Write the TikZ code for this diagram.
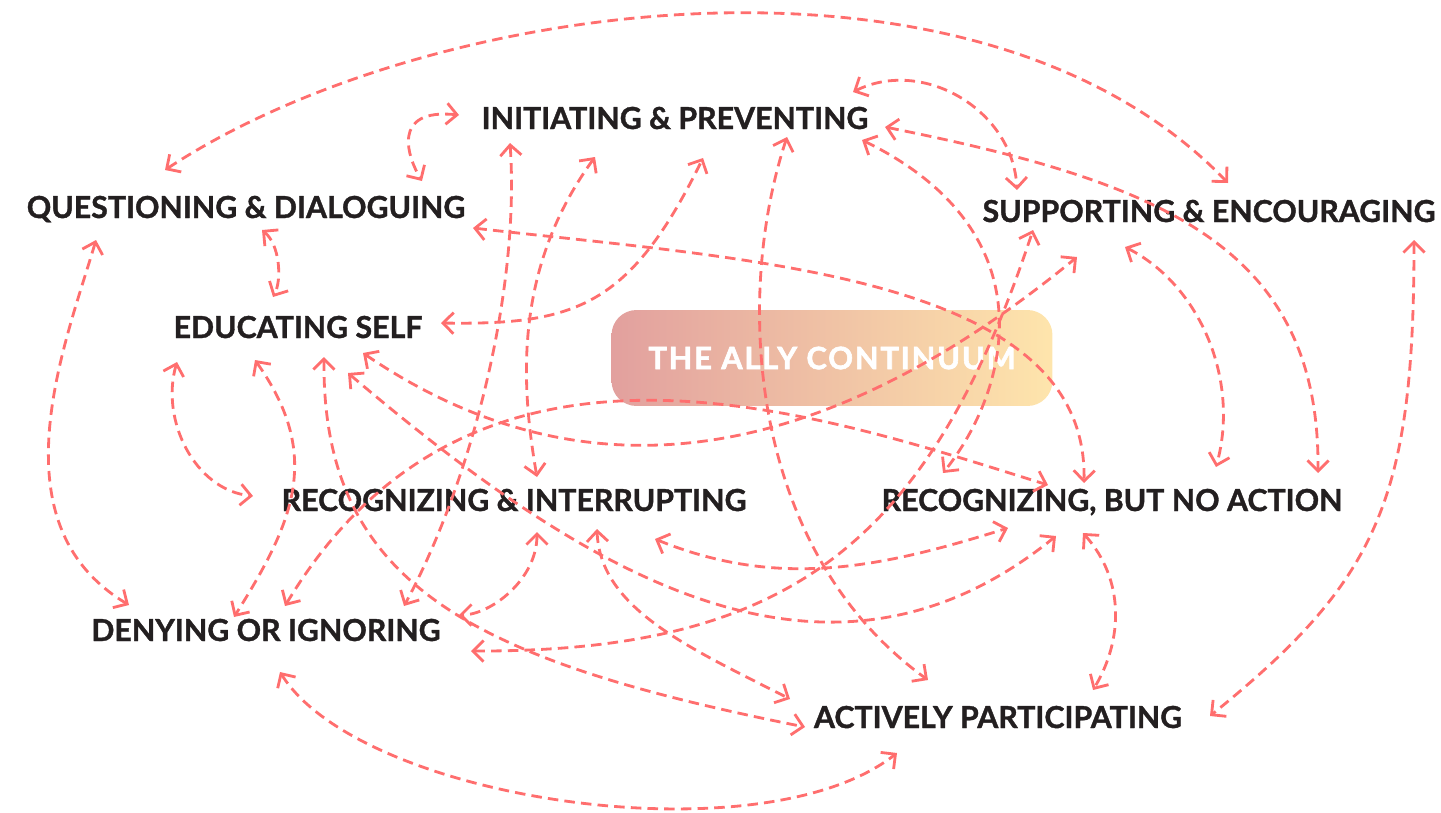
\documentclass[tikz,border=0pt]{standalone}
\usepackage{fontspec}
\setmainfont{Lato}[BoldFeatures={FakeBold=1.2}]
\newfontfamily\allyfont[LetterSpace=6, BoldFeatures={FakeBold=2}]{Lato}
\usetikzlibrary{arrows.meta}

\definecolor{linea}{RGB}{255,110,110}
\definecolor{testo}{RGB}{35,31,32}
\definecolor{allysx}{RGB}{226,160,158}
\definecolor{allydx}{RGB}{254,229,172}

\begin{document}
\begin{tikzpicture}[x=0.02cm, y=-0.02cm,
    voce/.style={anchor=base, inner sep=0pt, text=testo, font=\fontsize{17.25}{20}\selectfont\bfseries},
    freccia/.style={draw=linea, line width=1.6pt, dash pattern=on 6pt off 3.5pt,
        >={Straight Barb[length=6pt,width=12pt]}, <->}]

    \useasboundingbox (0,0) rectangle (1441,812);

    % Riquadro centrale sfumato
    \node[rounded corners=0.5cm, left color=allysx, right color=allydx, minimum width=8.82cm,
        minimum height=1.92cm, inner sep=0pt, text=white,
        font=\allyfont\fontsize{17.5}{20}\selectfont\bfseries] (ally) at (832,358) {THE ALLY CONTINUUM};

    % Le otto voci
    \node[voce] (init) at (675,129) {INITIATING \& PREVENTING};
    \node[voce] (quest) at (246,218) {QUESTIONING \& DIALOGUING};
    \node[voce] (supp) at (1209,222) {SUPPORTING \& ENCOURAGING};
    \node[voce] (edu) at (298,338) {EDUCATING SELF};
    \node[voce] (recint) at (514,511) {RECOGNIZING \& INTERRUPTING};
    \node[voce] (recno) at (1112,511) {RECOGNIZING, BUT NO ACTION};
    \node[voce] (deny) at (266,641) {DENYING OR IGNORING};
    \node[voce] (act) at (998,728) {ACTIVELY PARTICIPATING};

    % Frecce da QUESTIONING
    \draw[freccia] ([shift={(-81,-48)}]quest.base) .. controls (426,-2) and (977,-78) .. ([shift={(19,-39)}]supp.base);
    \draw[freccia] ([shift={(16,12)}]quest.base) .. controls (280,245) and (282,280) .. ([shift={(-25,-41)}]edu.base);
    \draw[freccia] ([shift={(-150,22)}]quest.base) .. controls (66,342) and (-8,523) .. ([shift={(-137,-36)}]deny.base);
    \draw[freccia] ([shift={(227,10)}]quest.base) .. controls (753,260) and (1088,276) .. ([shift={(-28,-28)}]recno.base);

    % Frecce da INITIATING
    \draw[freccia] ([shift={(-216,-14)}]init.base) .. controls (390,108) and (408,158) .. ([shift={(176,-37)}]quest.base);
    \draw[freccia] ([shift={(-165,14)}]init.base) .. controls (520,290) and (472,480) .. ([shift={(138,-35)}]deny.base);
    \draw[freccia] ([shift={(-80,28)}]init.base) .. controls (515,267) and (520,380) .. ([shift={(23,-34)}]recint.base);
    \draw[freccia] ([shift={(112,8)}]init.base) .. controls (734,297) and (748,550) .. ([shift={(-70,-48)}]act.base);
    \draw[freccia] ([shift={(187,11)}]init.base) .. controls (1050,232) and (1010,389) .. ([shift={(-169,-38)}]recno.base);
    \draw[freccia] ([shift={(178,-37)}]init.base) .. controls (923,57) and (1013,110) .. ([shift={(-192,-32)}]supp.base);
    \draw[freccia] ([shift={(210,-2)}]init.base) .. controls (1159,182) and (1320,245) .. ([shift={(206,-38)}]recno.base);

    % Frecce da SUPPORTING
    \draw[freccia] ([shift={(-84,25)}]supp.base) .. controls (1200,285) and (1240,380) .. ([shift={(104,-44)}]recno.base);
    \draw[freccia] ([shift={(205,18)}]supp.base) .. controls (1414,500) and (1378,580) .. ([shift={(212,-12)}]act.base);

    % Frecce da EDUCATING SELF
    \draw[freccia] ([shift={(143,-15)}]edu.base) .. controls (575,325) and (630,307) .. ([shift={(28,29)}]init.base);
    \draw[freccia] ([shift={(-121,24)}]edu.base) .. controls (160,420) and (195,490) .. ([shift={(-261,-15)}]recint.base);
    \draw[freccia] ([shift={(-43,22)}]edu.base) .. controls (322,455) and (295,520) .. ([shift={(-32,-24)}]deny.base);
    \draw[freccia] ([shift={(26,19)}]edu.base) .. controls (322,586) and (475,661) .. ([shift={(-193,-1)}]act.base);
    \draw[freccia] ([shift={(50,35)}]edu.base) .. controls (586,575) and (826,722) .. ([shift={(-56,25)}]recno.base);
    \draw[freccia] ([shift={(65,15)}]edu.base) .. controls (576,498) and (811,475) .. ([shift={(-132,35)}]supp.base);

    % Frecce da DENYING
    \draw[freccia] ([shift={(205,10)}]deny.base) .. controls (784,652) and (928,548) .. ([shift={(-176,8)}]supp.base);
    \draw[freccia] ([shift={(19,-35)}]deny.base) .. controls (473,292) and (816,413) .. ([shift={(-64,-26)}]recno.base);
    \draw[freccia] ([shift={(14,31)}]deny.base) .. controls (360,800) and (760,860) .. ([shift={(-101,25)}]act.base);

    % Frecce da RECOGNIZING
    \draw[freccia] ([shift={(141,28)}]recint.base) .. controls (780,590) and (883,567) .. ([shift={(-104,17)}]recno.base);
    \draw[freccia] ([shift={(83,18)}]recint.base) .. controls (600,609) and (690,648) .. ([shift={(-208,-29)}]act.base);
    \draw[freccia] ([shift={(23,21)}]recint.base) .. controls (537,580) and (490,615) .. ([shift={(193,-26)}]deny.base);
    \draw[freccia] ([shift={(-29,22)}]recno.base) .. controls (1125,580) and (1123,640) .. ([shift={(95,-38)}]act.base);

\end{tikzpicture}
\end{document}
